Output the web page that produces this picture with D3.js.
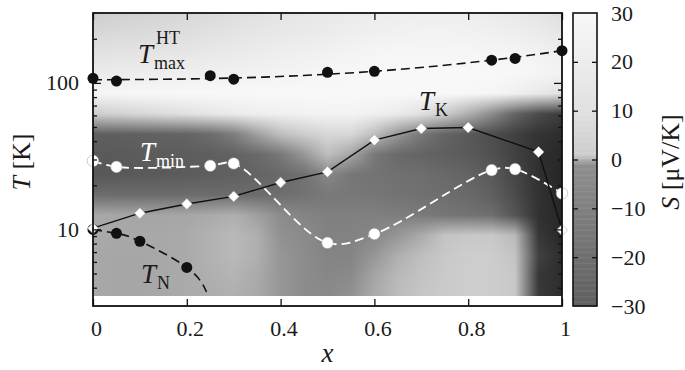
<!DOCTYPE html>
<html>
<head>
<meta charset="UTF-8">
<title>Seebeck map</title>
<script src="https://cdn.jsdelivr.net/npm/d3@7"></script>
<style>
  body { margin: 0; background: #fff; }
  svg text { font-family: "Liberation Serif", "Times New Roman", serif; fill: #1a1a1a; }
</style>
</head>
<body>
<script>
var width = 685, height = 370;

// T_max^HT (black circles, dashed guide)
var htX = [0, 0.05, 0.25, 0.3, 0.5, 0.6, 0.85, 0.9, 1];
var htT = [107.5, 103, 112, 106, 118, 120, 143, 147, 166];
var htGuideX = [0, 0.3, 0.6, 0.85, 1];
var htGuideT = [105, 108, 120, 143, 166];

// T_min (white circles, white dashed)
var minX = [0, 0.05, 0.25, 0.3, 0.5, 0.6, 0.85, 0.9, 1];
var minT = [29.4, 26.7, 27.2, 28.2, 8.1, 9.3, 25.4, 25.8, 17.6];

// T_K (white diamonds, solid line)
var kX = [0, 0.1, 0.2, 0.3, 0.4, 0.5, 0.6, 0.7, 0.8, 0.95, 1];
var kT = [10.2, 12.9, 14.9, 16.8, 20.9, 24.7, 40.7, 48.8, 49.6, 33.8, 9.9];

// T_N (black circles, dashed guide)
var nX = [0, 0.05, 0.1, 0.2];
var nT = [10, 9.4, 8.3, 5.5];
var nGuideX = [0, 0.05, 0.1, 0.2, 0.242];
var nGuideT = [10, 9.4, 8.3, 5.5, 3.75];

var xTicks = [0, 0.2, 0.4, 0.6, 0.8, 1];
var yTicks = [10, 100];
var yMinor = [4, 5, 6, 7, 8, 9, 20, 30, 40, 50, 60, 70, 80, 90, 200];
var cbTicks = [-30, -20, -10, 0, 10, 20, 30];

// S(x, T) map in uV/K, rows follow heatT (low T first), columns follow heatX
var heatX = [0, 0.05, 0.1, 0.15, 0.2, 0.25, 0.3, 0.35, 0.4, 0.45, 0.5, 0.55, 0.6, 0.65, 0.7, 0.75, 0.8, 0.85, 0.9, 0.95, 1];
var heatT = [3.5, 4.8, 6.6, 9.1, 12.5, 17.2, 23.7, 32.5, 44.7, 61.5, 84.5, 116, 160, 220, 300];
var heatS = [
  [-0.19, -0.26, -0.26, -0.19, -0.13, -0.06, 0.03, -0.19, -0.77, -2.8, -4, -0.94, -0.13, 0.45, 0.77, 0.9, 1, 1, 0.84, -53.5, -61.7],
  [-0.19, -0.26, -0.26, -0.19, -0.13, 0.03, 0.19, -0.13, -0.77, -2.8, -5.8, -4, -0.29, 0.35, 0.68, 0.9, 1, 1, 0.84, -55.4, -61.7],
  [-0.19, -0.26, -0.26, -0.19, -0.13, 0.13, 0.35, 0.03, -0.77, -2.8, -7.7, -7.7, -0.77, 0.03, 0.52, 0.84, 1, 1, 0.68, -49, -61.7],
  [-0.13, -0.19, -0.19, -0.19, -0.13, 0.13, 0.35, 0.03, -0.94, -4, -8.9, -8.9, -5.8, -0.77, -0.13, 0.68, 0.84, 0.84, 0.35, -55.4, -64.9],
  [-0.19, -0.26, -0.29, -0.29, -0.26, -0.13, 0.03, -0.45, -2.8, -7.7, -10.1, -10.1, -10.1, -11.9, -13.7, -16.1, -17.9, -20.9, -36.3, -58.6, -66.2],
  [-22.1, -22.1, -22.1, -22.1, -22.1, -22.1, -22.1, -22.1, -20.9, -17.9, -14.9, -14.9, -16.1, -17.9, -19.7, -20.9, -24, -30, -42.7, -58.6, -66.2],
  [-34.4, -34.4, -33.2, -33.2, -32, -30.6, -29.4, -27, -24, -19.7, -5.8, -16.1, -17.9, -19.7, -20.9, -24, -27, -33.2, -45.9, -59.8, -66.2],
  [-33.2, -33.2, -32, -32, -31.4, -30, -28.2, -24, -14.9, -0.77, 0.52, -0.29, -14.9, -24, -27, -30, -33.2, -39.5, -49, -59.8, -64.9],
  [-30, -30, -28.8, -28.2, -27, -22.1, -11.9, -0.45, 0.52, 1, 5.7, 5.7, 0.52, -0.77, -14.9, -27, -33.2, -40.8, -49, -57.3, -61.7],
  [1, 3.4, 5.7, 8.1, 10.8, 15, 19.2, 21.7, 23.3, 25, 25.8, 25.8, 23.3, 19.2, 10.8, 1, 0.03, -2.8, -27, -42.7, -52.2],
  [27.5, 28.3, 29.2, 29.2, 30, 30, 30, 30, 30, 30, 30, 30, 30, 30, 30, 30, 29.2, 27.5, 23.3, 16.7, 10.8],
  [19.2, 20, 20.8, 21.7, 22.5, 23.3, 24.2, 25, 25.8, 26.7, 28.3, 29.2, 30, 30, 30, 30, 30, 30, 29.2, 27.5, 25],
  [10.8, 12.5, 13.3, 14.2, 15, 16.7, 18.3, 20, 21.7, 22.5, 24.2, 25.8, 27.5, 28.3, 28.3, 28.3, 28.3, 27.5, 26.7, 25, 21.7],
  [5.7, 6.7, 7.2, 8.1, 9.1, 10.8, 13.3, 15, 16.7, 18.3, 20, 21.7, 23.3, 24.2, 25, 25, 24.2, 23.3, 21.7, 19.2, 15],
  [1, 2.4, 3.4, 4.3, 5.7, 7.2, 9.1, 10.8, 13.3, 15, 16.7, 18.3, 20, 20.8, 21.7, 21.7, 20.8, 19.2, 16.7, 13.3, 9.1]
];

var x = d3.scaleLinear().domain([0, 1]).range([93, 562]);
var y = d3.scaleLog().domain([3, 300]).range([306, 13]);
var yC = d3.scaleLinear().domain([-30, 30]).range([306, 13]);

// grey level for a given S
var grey = d3.scaleLinear()
  .domain([-70, -30, -1, 0, 1, 10, 30])
  .range([32, 95, 143, 174, 205, 224, 248])
  .clamp(true);
function sColor(s) { var g = Math.round(grey(s)); return d3.rgb(g, g, g).toString(); }

var svg = d3.select("body").append("svg")
  .attr("width", width)
  .attr("height", height);

// heat map, drawn pixel by pixel into a canvas
(function () {
  var left = Math.round(x(0)), right = Math.round(x(1));
  var top = Math.round(y(300)), bottom = Math.round(y(heatT[0]));
  var cw = right - left, ch = bottom - top;
  var canvas = document.createElement("canvas");
  canvas.width = cw; canvas.height = ch;
  var ctx = canvas.getContext("2d");
  var img = ctx.createImageData(cw, ch);
  var logT = heatT.map(Math.log);
  var G = heatS.map(function (row) { return row.map(grey); });
  for (var j = 0; j < ch; j++) {
    var lt = Math.log(y.invert(top + j + 0.5));
    var r = Math.max(0, Math.min(logT.length - 2, d3.bisectRight(logT, lt) - 1));
    var fy = Math.max(0, Math.min(1, (lt - logT[r]) / (logT[r + 1] - logT[r])));
    for (var i = 0; i < cw; i++) {
      var xv = x.invert(left + i + 0.5);
      var c = Math.max(0, Math.min(heatX.length - 2, d3.bisectRight(heatX, xv) - 1));
      var fx = Math.max(0, Math.min(1, (xv - heatX[c]) / (heatX[c + 1] - heatX[c])));
      var g = (1 - fy) * ((1 - fx) * G[r][c] + fx * G[r][c + 1]) +
              fy * ((1 - fx) * G[r + 1][c] + fx * G[r + 1][c + 1]);
      var k = (j * cw + i) * 4;
      img.data[k] = img.data[k + 1] = img.data[k + 2] = Math.round(g);
      img.data[k + 3] = 255;
    }
  }
  ctx.putImageData(img, 0, 0);
  svg.append("image")
    .attr("x", left).attr("y", top)
    .attr("width", cw).attr("height", ch)
    .attr("preserveAspectRatio", "none")
    .attr("href", canvas.toDataURL());
})();

function pts(xs, ts) { return xs.map(function (d, i) { return [x(d), y(ts[i])]; }); }

// guide lines
svg.append("path")
  .attr("d", d3.line().curve(d3.curveNatural)(pts(htGuideX, htGuideT)))
  .attr("fill", "none").attr("stroke", "#111").attr("stroke-width", 1.6)
  .attr("stroke-dasharray", "9,5");

svg.append("path")
  .attr("d", d3.line().curve(d3.curveCatmullRom)(pts(minX, minT)))
  .attr("fill", "none").attr("stroke", "#fff").attr("stroke-width", 1.8)
  .attr("stroke-dasharray", "9,5");

svg.append("path")
  .attr("d", d3.line().curve(d3.curveNatural)(pts(nGuideX, nGuideT)))
  .attr("fill", "none").attr("stroke", "#111").attr("stroke-width", 1.6)
  .attr("stroke-dasharray", "9,5");

svg.append("path")
  .attr("d", d3.line()(pts(kX, kT)))
  .attr("fill", "none").attr("stroke", "#111").attr("stroke-width", 1.4);

// markers
svg.append("g").selectAll("circle").data(pts(htX, htT)).join("circle")
  .attr("cx", function (d) { return d[0]; }).attr("cy", function (d) { return d[1]; })
  .attr("r", 5.5).attr("fill", "#111");

svg.append("g").selectAll("circle").data(pts(nX, nT)).join("circle")
  .attr("cx", function (d) { return d[0]; }).attr("cy", function (d) { return d[1]; })
  .attr("r", 5.5).attr("fill", "#111");

svg.append("g").selectAll("circle").data(pts(minX, minT)).join("circle")
  .attr("cx", function (d) { return d[0]; }).attr("cy", function (d) { return d[1]; })
  .attr("r", 5.8).attr("fill", "#fff").attr("stroke", "#999").attr("stroke-width", 0.5);

svg.append("g").selectAll("path").data(pts(kX, kT)).join("path")
  .attr("transform", function (d) { return "translate(" + d[0] + "," + d[1] + ")"; })
  .attr("d", "M0,-5.5L5.5,0L0,5.5L-5.5,0Z")
  .attr("fill", "#fff").attr("stroke", "#999").attr("stroke-width", 0.5);

// axes: inward ticks on all four sides
function noDomain(g) { g.select(".domain").remove(); g.attr("font-family", null).attr("font-size", null); }

svg.append("g").attr("transform", "translate(0,306)")
  .call(d3.axisBottom(x).tickValues(xTicks).tickSize(-7).tickPadding(14).tickFormat(d3.format("")))
  .call(noDomain)
  .call(function (g) { g.selectAll("text").attr("dx", 3).style("font-size", "22px"); });
svg.append("g").attr("transform", "translate(0,13)")
  .call(d3.axisTop(x).tickValues(xTicks).tickSize(-7).tickFormat(""))
  .call(noDomain);

svg.append("g").attr("transform", "translate(93,0)")
  .call(d3.axisLeft(y).tickValues(yTicks).tickSize(-8).tickPadding(14).tickFormat(d3.format("d")))
  .call(noDomain)
  .call(function (g) { g.selectAll("text").style("font-size", "22px"); });
svg.append("g").attr("transform", "translate(93,0)")
  .call(d3.axisLeft(y).tickValues(yMinor).tickSize(-4).tickFormat(""))
  .call(noDomain);
svg.append("g").attr("transform", "translate(562,0)")
  .call(d3.axisRight(y).tickValues(yTicks).tickSize(-8).tickFormat(""))
  .call(noDomain);
svg.append("g").attr("transform", "translate(562,0)")
  .call(d3.axisRight(y).tickValues(yMinor).tickSize(-4).tickFormat(""))
  .call(noDomain);

svg.selectAll(".tick line").attr("stroke", "#111").attr("stroke-width", 1.3);

svg.append("rect")
  .attr("x", 93).attr("y", 13).attr("width", 562 - 93).attr("height", 306 - 13)
  .attr("fill", "none").attr("stroke", "#111").attr("stroke-width", 1.8);

// colour bar
var cb = svg.append("g");
var step = 0.25;
cb.selectAll("rect").data(d3.range(-30, 30, step)).join("rect")
  .attr("x", 573).attr("width", 24)
  .attr("y", function (d) { return yC(d + step); })
  .attr("height", function (d) { return yC(d) - yC(d + step) + 0.5; })
  .attr("fill", function (d) { return sColor(d + step / 2); });

var inner = cbTicks.slice(1, -1);
svg.append("g").attr("transform", "translate(573,0)")
  .call(d3.axisLeft(yC).tickValues(inner).tickSize(-5).tickFormat(""))
  .call(noDomain);
svg.append("g").attr("transform", "translate(597,0)")
  .call(d3.axisRight(yC).tickValues(inner).tickSize(-5).tickFormat(""))
  .call(noDomain);
svg.append("g").attr("transform", "translate(597,0)")
  .call(d3.axisRight(yC).tickValues(cbTicks).tickSize(0).tickPadding(14).tickFormat(d3.format("d")))
  .call(noDomain)
  .call(function (g) { g.selectAll("text").style("font-size", "22px"); });
svg.selectAll(".tick line").attr("stroke", "#111").attr("stroke-width", 1.3);

svg.append("rect")
  .attr("x", 573).attr("y", 13).attr("width", 24).attr("height", 293)
  .attr("fill", "none").attr("stroke", "#111").attr("stroke-width", 1.6);

// axis titles
svg.append("text")
  .attr("transform", "translate(30,162) rotate(-90)")
  .attr("text-anchor", "middle").style("font-size", "26px")
  .html('<tspan font-style="italic">T</tspan> [K]');

svg.append("text")
  .attr("x", x(0.5)).attr("y", 362)
  .attr("text-anchor", "middle").style("font-size", "27px").style("font-style", "italic")
  .text("x");

svg.append("text")
  .attr("transform", "translate(679,162) rotate(-90)")
  .attr("text-anchor", "middle").style("font-size", "26px")
  .html('<tspan font-style="italic">S</tspan> [\u03bcV/K]');

// curve labels
function tlabel(px, py, sub, sup, colour) {
  var g = svg.append("g");
  g.append("text").attr("x", px).attr("y", py)
    .style("font-size", "27px").style("font-style", "italic").style("fill", colour)
    .text("T");
  if (sup) g.append("text").attr("x", px + 18).attr("y", py - 19)
    .style("font-size", "18px").style("fill", colour).text(sup);
  g.append("text").attr("x", px + 16).attr("y", py + 6)
    .style("font-size", "18px").style("fill", colour).text(sub);
}
tlabel(138, 63, "max", "HT", "#1a1a1a");
tlabel(140, 161, "min", null, "#fff");
tlabel(419, 110, "K", null, "#1a1a1a");
tlabel(141, 283, "N", null, "#1a1a1a");
</script>
</body>
</html>
